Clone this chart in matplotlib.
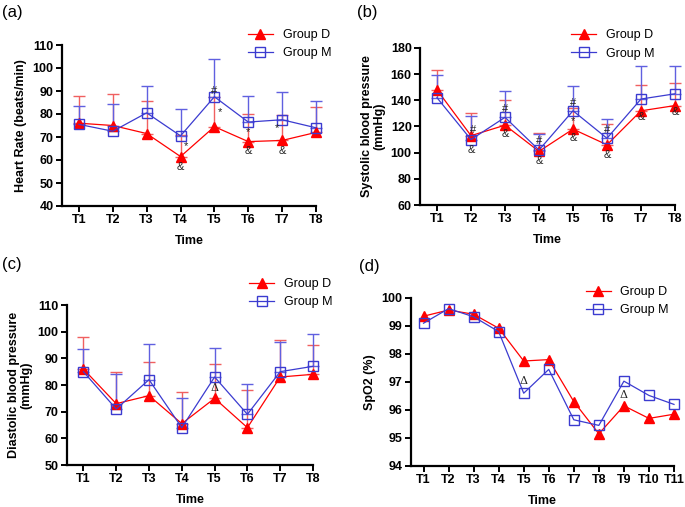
import matplotlib
matplotlib.use('Agg')
import matplotlib.pyplot as plt

plt.rcParams['font.family'] = ['Liberation Sans', 'DejaVu Sans']

RED = '#ff0000'
BLUE = '#3b3bd0'
W, H = 685, 507

# (a) Heart rate
hr_labels = ['T1', 'T2', 'T3', 'T4', 'T5', 'T6', 'T7', 'T8']
hr_d = [76, 75, 71.5, 61.5, 74.5, 68, 68.5, 72]
hr_d_err = [12, 13.5, 14, 9.5, 13, 12, 11, 11]
hr_m = [75.5, 72.5, 80.5, 70.5, 87.5, 76.5, 77.5, 74]
hr_m_err = [8, 12, 11.5, 11.5, 16.5, 11.5, 12, 11.5]
hr_marks = [(4, 57, '&'), (4.15, 66, '*'), (5, 90, '#'), (5.15, 81, '*'),
            (6, 72, '*'), (6, 64, '&'), (6.85, 74, '*'), (7, 64, '&')]

# (b) Systolic blood pressure
sbp_d = [148, 113, 121, 101, 118, 106, 132, 136]
sbp_d_err = [15, 17.5, 19, 14, 16, 16, 19.5, 17]
sbp_m = [142, 110, 127, 102, 132, 111, 141, 145]
sbp_m_err = [17, 18, 20.5, 12, 19, 15, 25, 21]
sbp_marks = [(2.05, 117, '#'), (2, 102, '&'), (3, 133, '#'), (3, 114, '&'),
             (4, 109, '#'), (4, 94, '&'), (5, 138, '#'), (5, 124, '*'),
             (5, 111, '&'), (6, 117, '#'), (6, 98, '&'), (7, 127, '&'),
             (8, 131, '&')]

# (c) Diastolic blood pressure
dbp_d = [86, 73, 76, 65.5, 75, 64, 83, 84]
dbp_d_err = [12, 12, 12.5, 12, 13, 14, 14, 11]
dbp_m = [85, 71, 82, 64, 83, 69, 85, 87]
dbp_m_err = [8.5, 13, 13.5, 11, 11, 11.5, 11, 12]
dbp_marks = [(5, 79, 'Δ')]

# (d) SpO2
spo_labels = ['T1', 'T2', 'T3', 'T4', 'T5', 'T6', 'T7', 'T8', 'T9', 'T10', 'T11']
spo_d = [99.35, 99.57, 99.42, 98.92, 97.75, 97.8, 96.3, 95.15, 96.15, 95.7, 95.85]
spo_m = [99.1, 99.62, 99.33, 98.8, 96.6, 97.45, 95.65, 95.45, 97.03, 96.52, 96.2]
spo_marks = [(5, 97.05, 'Δ'), (9, 96.55, 'Δ')]


def px_axes(fig, l, t, r, b):
    return fig.add_axes([l / W, (H - b) / H, (r - l) / W, (b - t) / H])


def panel(ax, labels, d, m, d_err, m_err, ylim, yticks, ylabel, marks, legend_xy):
    x = list(range(1, len(labels) + 1))
    if d_err is not None:
        ax.errorbar(x, d, yerr=[[0] * len(d), d_err], fmt='none', ecolor='#f06060',
                    elinewidth=1, capsize=4, capthick=1, clip_on=False, zorder=2)
        ax.errorbar(x, m, yerr=[[0] * len(m), m_err], fmt='none', ecolor='#6060e0',
                    elinewidth=1, capsize=4, capthick=1, clip_on=False, zorder=2)
    ld, = ax.plot(x, d, color=RED, lw=0.9, marker='^', ms=7.5, mfc=RED, mec=RED,
                  clip_on=False, zorder=3, label='Group D')
    lm, = ax.plot(x, m, color=BLUE, lw=0.9, marker='s', ms=7.5, mfc='none', mec=BLUE,
                  mew=1, clip_on=False, zorder=4, label='Group M')
    for xx, yy, s in marks:
        ax.text(xx, yy, s, ha='center', va='center', fontsize=8, color='#222222',
                family=['DejaVu Serif'] if s == 'Δ' else None, zorder=5)
    ax.set_xlim(0.5, len(labels))
    ax.set_ylim(*ylim)
    ax.set_yticks(yticks)
    ax.set_xticks(x)
    ax.set_xticklabels(labels)
    for sp in ['top', 'right']:
        ax.spines[sp].set_visible(False)
    for sp in ['left', 'bottom']:
        ax.spines[sp].set_linewidth(1.6)
    ax.tick_params(width=1.4, length=4, labelsize=9, pad=2)
    for t in ax.get_xticklabels() + ax.get_yticklabels():
        t.set_fontweight('bold')
    ax.set_xlabel('Time', fontsize=9, fontweight='bold', labelpad=6)
    ax.set_ylabel(ylabel, fontsize=9, fontweight='bold', labelpad=4,
                  linespacing=1.0, ha='center')
    ax.legend(handles=[ld, lm], loc='upper right', bbox_to_anchor=legend_xy,
              frameon=False, fontsize=9, handlelength=2.0, markerscale=0.9,
              labelspacing=0.5, borderaxespad=0)


fig = plt.figure(figsize=(W / 100, H / 100), dpi=100)

ax1 = px_axes(fig, 62, 45, 316, 206)
panel(ax1, hr_labels, hr_d, hr_m, hr_d_err, hr_m_err, (40, 110),
      range(40, 111, 10), 'Heart Rate (beats/min)', hr_marks, (1.08, 1.13))

ax2 = px_axes(fig, 420, 48, 675, 205)
panel(ax2, hr_labels, sbp_d, sbp_m, sbp_d_err, sbp_m_err, (60, 180),
      range(60, 181, 20), 'Systolic blood pressure\n(mmHg)', sbp_marks, (0.94, 1.15))

ax3 = px_axes(fig, 67, 305, 313, 465)
panel(ax3, hr_labels, dbp_d, dbp_m, dbp_d_err, dbp_m_err, (50, 110),
      range(50, 111, 10), 'Diastolic blood pressure\n(mmHg)', dbp_marks, (1.1, 1.2))

ax4 = px_axes(fig, 411, 298, 674, 466)
panel(ax4, spo_labels, spo_d, spo_m, None, None, (94, 100),
      range(94, 101, 1), 'SpO2 (%)', spo_marks, (1.0, 1.1))

for s, (xp, yp) in zip(['(a)', '(b)', '(c)', '(d)'],
                       [(2, 12), (357, 12), (2, 265), (359, 267)]):
    fig.text(xp / W, 1 - yp / H, s, fontsize=12, va='center', ha='left')

fig.savefig('out.png', dpi=100)
